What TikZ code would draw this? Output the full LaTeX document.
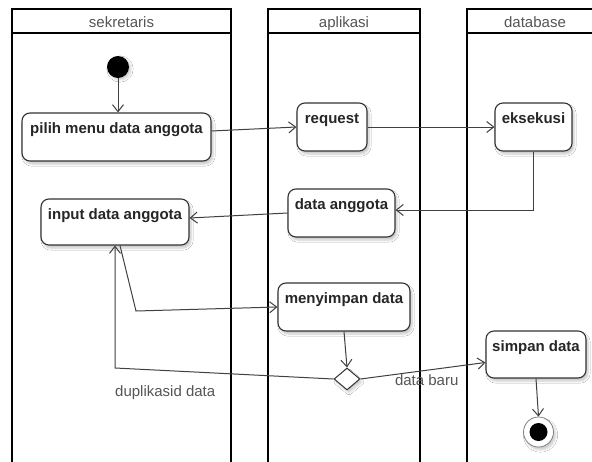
\documentclass[tikz,border=0pt]{standalone}
\usepackage{fontspec}
\setmainfont{Liberation Sans}
\usetikzlibrary{arrows.meta,shapes.geometric,shadows.blur,calc}
\definecolor{edgegray}{HTML}{404040}
\definecolor{boxgray}{HTML}{333333}
\definecolor{labelgray}{HTML}{555555}
\tikzset{
  lane/.style={draw=black, line width=1.8pt},
  lanetitle/.style={text=labelgray, font=\fontsize{15}{18}\selectfont, anchor=base},
  act/.style 2 args={draw=boxgray, line width=1.1pt, fill=white, rounded corners=8pt,
    minimum width=#1, inner xsep=2pt, inner ysep=4pt, text height=16pt, text depth=#2,
    text=black!85, font=\fontsize{15}{18}\selectfont\bfseries,
    blur shadow={shadow xshift=2pt, shadow yshift=-3pt, shadow blur steps=6, shadow opacity=22}},
  flow/.style={draw=edgegray, line width=1pt, -{Straight Barb[length=7pt,width=11pt]}},
  lbl/.style={text=labelgray, font=\fontsize{15}{18}\selectfont, inner sep=1pt},
  startdot/.style={circle, fill=black, minimum size=22pt, inner sep=0pt,
    blur shadow={shadow xshift=2pt, shadow yshift=-2pt, shadow blur steps=5, shadow opacity=20}},
  decision/.style={diamond, draw=boxgray, line width=1pt, fill=white, minimum width=26pt,
    minimum height=22pt, inner sep=0pt,
    blur shadow={shadow xshift=2pt, shadow yshift=-3pt, shadow blur steps=5, shadow opacity=20}},
  enddot/.style={circle, draw=gray, line width=0.8pt, fill=white, minimum size=30pt, inner sep=0pt,
    blur shadow={shadow xshift=2pt, shadow yshift=-3pt, shadow blur steps=5, shadow opacity=20}},
}
\begin{document}
\begin{tikzpicture}[x=1pt, y=-1pt]
\useasboundingbox (0,0) rectangle (592,461);
\clip (0,0) rectangle (592,461);
\fill[white] (0,0) rectangle (592,461);

% swimlanes
\draw[lane] (12,470) -- (12,9) -- (231,9) -- (231,470);
\draw[lane] (12,33) -- (231,33);
\draw[lane] (268,470) -- (268,9) -- (420,9) -- (420,470);
\draw[lane] (268,33) -- (420,33);
\draw[lane] (467,470) -- (467,9) -- (600,9);
\draw[lane] (467,33) -- (600,33);
\node[lanetitle] (t1) at (121.5,27.5) {sekretaris};
\node[lanetitle] (t2) at (344,27.5) {aplikasi};
\node[lanetitle] (t3) at (535,27.5) {database};

% activities
\node[startdot] (start) at (118,67) {};
\node[act={189pt}{24pt}] (pilih) at (116.5,137) {pilih menu data anggota};
\node[act={148pt}{22pt}] (input) at (115,222) {input data anggota};
\node[act={70pt}{24pt}] (request) at (332,127) {request};
\node[act={77pt}{24pt}] (eksekusi) at (533.5,127) {eksekusi};
\node[act={107pt}{24pt}] (dataang) at (341.5,213) {data anggota};
\node[act={132pt}{24pt}] (simpanapp) at (344,307) {menyimpan data};
\node[act={100pt}{23pt}] (simpandb) at (536,354.5) {simpan data};
\node[decision] (dec) at (347,379) {};
\node[enddot] (end) at (538.5,432) {};
\fill[black] (end.center) circle (9pt);

\coordinate (b1) at (136,311);
\coordinate (b2) at (115,368);

% control flow
\draw[flow] (start.south) -- (start.south |- pilih.north);
\draw[flow] ($(pilih.east)+(0,-6)$) -- (request.west);
\draw[flow] (request.east) -- (eksekusi.west);
\draw[flow] (eksekusi.south) |- ($(dataang.east)+(0,-3)$);
\draw[flow] (dataang.west) -- ($(input.east)+(0,-4)$);
\draw[flow] ($(input.south)+(5,0)$) -- (b1) -- (simpanapp.west);
\draw[flow] (simpanapp.south) -- (dec.north);
\draw[flow] (dec.west) -- node[lbl, pos=0.77, anchor=north, yshift=-14pt] {duplikasid data} (b2) -- (input.south);
\draw[flow] (dec.east) -- node[lbl, pos=0.53, yshift=-10pt] {data baru} ($(simpandb.west)+(0,8)$);
\draw[flow] (simpandb.south) -- (end.north);
\end{tikzpicture}
\end{document}
